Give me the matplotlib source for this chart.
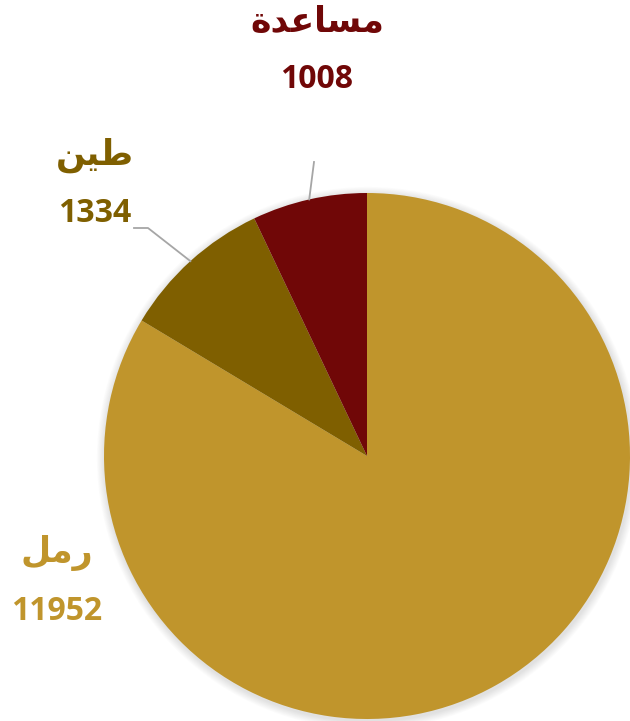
import numpy as np
import matplotlib.pyplot as plt
from matplotlib.patches import Circle

# data
labels = ["رمل", "طين", "مساعدة"]
# visual-order presentation forms (matplotlib does no Arabic shaping)
labels_shaped = ["\uFEDE\uFEE3\uFEAD", "\uFEE6\uFEF4\uFEC3", "\uFE93\uFEAA\uFECB\uFE8E\uFEB4\uFEE3"]
values = [11952, 1334, 1008]
colors = ["#C0952C", "#7F5F00", "#700707"]

# layout (pixel space, y measured from bottom)
W, H = 630, 721
cx, cy, R = 367, H - 456, 263
label_xy = [(57, H - 553), (95, H - 155), (317, H - 22)]
value_gap = 58
elbow = [None, (148, H - 228), (314, H - 162)]
line_end = [None, (134, H - 228), None]

fig = plt.figure(figsize=(W / 100, H / 100), dpi=100)
ax = fig.add_axes([0, 0, 1, 1])

# soft shadow around the pie
for i in range(10):
    ax.add_patch(Circle((cx + 1, cy - 2), R + 1 + i * 0.8, color="black",
                        alpha=0.012, lw=0, zorder=0))

wedges, _ = ax.pie(values, colors=colors, startangle=90, counterclock=False,
                   center=(cx, cy), radius=R, frame=True,
                   wedgeprops=dict(linewidth=0))
ax.set_xlim(0, W)
ax.set_ylim(0, H)
ax.set_aspect("equal")
ax.axis("off")

for i, w in enumerate(wedges):
    mid = np.deg2rad((w.theta1 + w.theta2) / 2)
    px, py = cx + R * np.cos(mid), cy + R * np.sin(mid)
    if elbow[i] is not None:
        xs, ys = [px, elbow[i][0]], [py, elbow[i][1]]
        if line_end[i] is not None:
            xs.append(line_end[i][0])
            ys.append(line_end[i][1])
        ax.plot(xs, ys, color="#A6A6A6", lw=1.3, zorder=3)
    lx, ly = label_xy[i]
    ax.text(lx, ly, labels_shaped[i], color=colors[i], fontsize=25,
            fontweight="bold", family=["DejaVu Sans"], ha="center", va="center")
    ax.text(lx, ly - value_gap, str(values[i]), color=colors[i], fontsize=23,
            fontweight="bold", family=["Open Sans", "DejaVu Sans"],
            ha="center", va="center")

fig.savefig("out.png", dpi=100)
